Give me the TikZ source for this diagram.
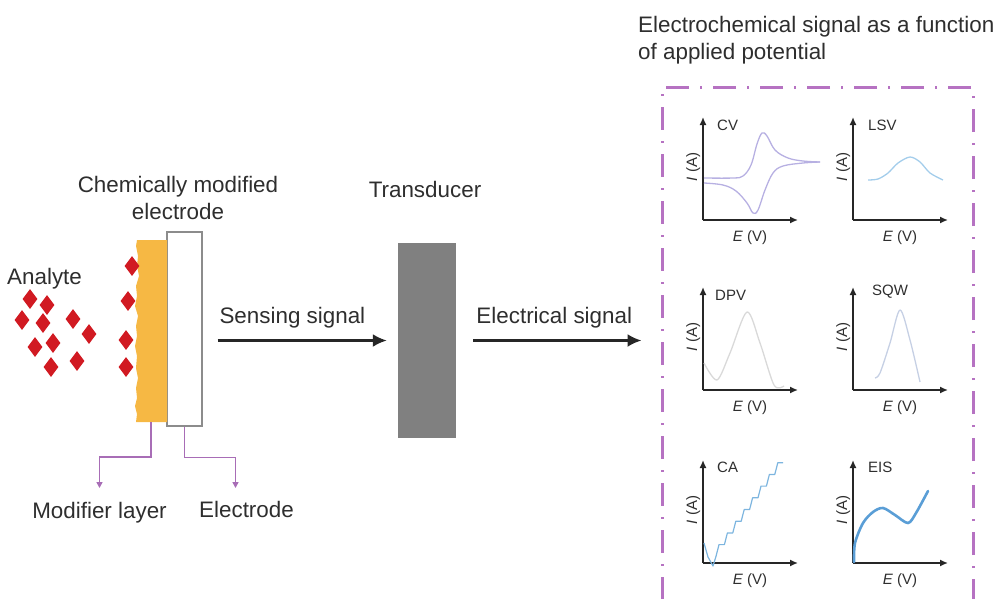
\documentclass[tikz,border=0pt]{standalone}
\usepackage{fontspec}
\setmainfont{Liberation Sans}
\usepackage{tikz}
\usetikzlibrary{shapes.geometric,arrows.meta,positioning,calc}
\definecolor{txtcol}{HTML}{2E2E2E}
\definecolor{anacol}{HTML}{D11A22}
\definecolor{laycol}{HTML}{F6B844}
\definecolor{leadcol}{HTML}{A86DB6}
\definecolor{boxcol}{HTML}{B672C2}
\definecolor{cvcol}{HTML}{B7B0E2}
\definecolor{lsvcol}{HTML}{A3CDEB}
\definecolor{dpvcol}{HTML}{D9D9D9}
\definecolor{sqwcol}{HTML}{C6D0E4}
\definecolor{cacol}{HTML}{7DB5DF}
\definecolor{eiscol}{HTML}{5A9ED6}

\begin{document}
\begin{tikzpicture}[x=1pt,y=-1pt,
  lbl/.style={font=\fontsize{22.4}{27}\selectfont,text=txtcol,inner sep=0pt},
  plbl/.style={font=\fontsize{15}{18}\selectfont,text=txtcol,inner sep=0pt},
  sig/.style={-{Latex[length=14pt,width=13pt]},line width=2.4pt,draw=black!85},
  lead/.style={-{Triangle[length=6pt,width=6pt]},line width=1.5pt,draw=leadcol},
  axis/.style={-{Latex[length=8pt,width=7pt]},line width=1.5pt,draw=black!85},
  ana/.style={diamond,fill=anacol,minimum width=15pt,minimum height=20pt,inner sep=0pt},
  curve/.style={line width=1.3pt,line join=round}]
  \useasboundingbox (0,0) rectangle (1004,598);
  \clip (0,0) rectangle (1004,598);

  % electrode and modifier layer
  \node[draw=black!45,line width=1.2pt,fill=white,minimum width=35pt,minimum height=194pt,inner sep=0pt] (elec) at (184.5,329) {};
  \fill[laycol] (167,240) -- (167,422) -- (136,422) -- (137,414) -- (135,406) -- (137,398) -- (136,388)
    -- (138,378) -- (136,368) -- (137,356) -- (135,346) -- (137,336) -- (136,326) -- (138,316)
    -- (135,306) -- (137,296) -- (136,286) -- (139,276) -- (137,266) -- (138,256) -- (136,246) -- (137,240) -- cycle;
  \coordinate (laybot) at (151,422);
  \node[lbl,align=center,anchor=north] (electtl) at (178,176) {Chemically modified\\electrode};

  % analyte
  \node[lbl,anchor=base west] (analbl) at (7,284) {Analyte};
  \foreach \x/\y [count=\i] in {30/299,47/305,22/320,43/323,73/319,89/334,35/347,53/343,51/367,77/361,
                                132/266,128/301,126/340,126/367}
    \node[ana] (an\i) at (\x,\y) {};

  % bottom labels
  \node[lbl,anchor=base] (modlbl) at (99.5,518) {Modifier layer};
  \node[lbl,anchor=base] (electlbl) at (246.5,517) {Electrode};
  \draw[lead] (laybot) -- ++(0,35) -| ([yshift=30pt]modlbl.base);
  \draw[lead] (elec.south) -- ++(0,31) -| ([xshift=-11pt,yshift=29pt]electlbl.base);

  % transducer
  \node[fill=black!50,minimum width=58pt,minimum height=195pt,inner sep=0pt] (trans) at (427,340.5) {};
  \node[lbl,anchor=base] (translbl) at (425,197) {Transducer};

  % result panel
  \node[draw=boxcol,line width=3pt,dash pattern=on 23pt off 11pt on 2pt off 11pt,
        minimum width=311pt,minimum height=533pt,inner sep=0pt] (panel) at (817.5,353.5) {};
  \node[lbl,align=left,anchor=north west] (ttl) at (638,16) {Electrochemical signal as a function\\of applied potential};

  % signals
  \draw[sig,shorten <=15pt,shorten >=11pt] (trans.west -| elec.east) -- (trans.west)
    node[lbl,pos=0.46,above=11pt] {Sensing signal};
  \draw[sig,shorten <=17pt,shorten >=19pt] (trans.east) -- (trans.east -| panel.west)
    node[lbl,pos=0.48,above=11pt] {Electrical signal};

  % plot axes
  \foreach \px/\py/\nm/\dx/\dy in {703/220/CV/14/90, 853/220/LSV/15/90, 703/390/DPV/12/90,
                                   853/390/SQW/19/95, 703/563/CA/14/91, 853/563/EIS/15/91} {
    \coordinate (o\nm) at (\px,\py);
    \draw[axis] (o\nm) -- ++(0,-103);
    \draw[axis] (o\nm) -- ++(95,0);
    \node[plbl,anchor=base west] (t\nm) at (\px+\dx,\py-\dy) {\nm};
    \node[plbl,anchor=base,rotate=90] (i\nm) at (\px-6,\py-53) {\textit{I} (A)};
    \node[plbl,anchor=base] (e\nm) at (\px+47,\py+21) {\textit{E} (V)};
  }

  % curves
  \begin{scope}[shift={(oCV)},yscale=-1]
    \draw[curve,cvcol] plot[smooth,tension=0.6] coordinates {(1,42) (30,42) (40,44) (48,55) (54,76) (59,87) (64,84) (72,70) (85,62) (100,59) (117,58)};
    \draw[curve,cvcol] plot[smooth,tension=0.6] coordinates {(1,37) (20,35) (33,29) (44,17) (50,7) (55,10) (62,30) (70,47) (80,54) (100,57) (117,58)};
  \end{scope}
  \begin{scope}[shift={(oLSV)},yscale=-1]
    \draw[curve,lsvcol] plot[smooth] coordinates {(15,40) (25,41) (35,47) (45,57) (57,63) (67,58) (77,47) (90,40)};
  \end{scope}
  \begin{scope}[shift={(oDPV)},yscale=-1]
    \draw[curve,dpvcol] plot[smooth] coordinates {(1,27) (14,10) (27,37) (44,78) (57,47) (71,5) (81,4)};
  \end{scope}
  \begin{scope}[shift={(oSQW)},yscale=-1]
    \draw[curve,sqwcol] plot[smooth] coordinates {(22,12) (27,17) (37,47) (47,80) (57,50) (67,8)};
  \end{scope}
  \begin{scope}[shift={(oCA)},yscale=-1]
    \draw[line width=1.2pt,cacol,line join=round] (1,20) -- (5,6) -- (10,-3) -- (13,6.7)
      foreach \k in {0,...,7} { -- ++(3,11.7) -- ++(5.4,0) };
  \end{scope}
  \begin{scope}[shift={(oEIS)},yscale=-1]
    \draw[line width=2.6pt,eiscol,line cap=round] plot[smooth] coordinates {(1,1) (2,20) (10,40) (20,51) (30,55) (42,48) (55,40) (63,50) (75,72)};
  \end{scope}
\end{tikzpicture}
\end{document}
